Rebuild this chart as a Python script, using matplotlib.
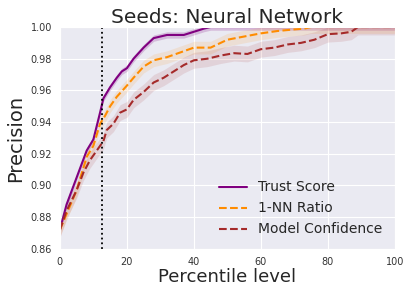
import numpy as np
import matplotlib
matplotlib.use("Agg")
import matplotlib.pyplot as plt
import seaborn as sns

sns.set_style("darkgrid")

# percentile levels and precision values
trust_x = [0, 2, 5, 8, 10, 12, 13, 15, 17, 18.5, 20, 22, 25, 28, 32, 37, 40, 43, 45, 50, 100]
trust_y = [0.872, 0.888, 0.905, 0.922, 0.929, 0.946, 0.955, 0.962, 0.968, 0.972, 0.974,
           0.980, 0.987, 0.993, 0.995, 0.995, 0.997, 0.999, 1.0, 1.0, 1.0]
trust_err = 0.002

nn_x = [0, 2, 5, 8, 10, 12, 13.5, 15, 17, 20, 22, 25, 28, 32, 36, 40, 45, 50, 55, 60,
        65, 70, 73, 75, 100]
nn_y = [0.872, 0.882, 0.897, 0.918, 0.925, 0.939, 0.944, 0.950, 0.956, 0.963, 0.968,
        0.975, 0.979, 0.981, 0.984, 0.987, 0.987, 0.992, 0.994, 0.996, 0.9975, 0.9985,
        0.999, 1.0, 1.0]
nn_err = 0.004

conf_x = [0, 2, 5, 7, 9, 11, 13, 14, 16, 18, 20, 22, 25, 28, 31, 34, 37, 40, 44, 48,
          52, 56, 60, 64, 68, 72, 76, 80, 84, 87, 89, 100]
conf_y = [0.872, 0.884, 0.897, 0.908, 0.916, 0.922, 0.928, 0.935, 0.939, 0.946, 0.948,
          0.954, 0.959, 0.965, 0.968, 0.972, 0.976, 0.979, 0.980, 0.982, 0.9835, 0.983,
          0.986, 0.987, 0.989, 0.990, 0.992, 0.9955, 0.996, 0.997, 1.0, 1.0]
conf_err = 0.005

cutoff = 12.7

fig = plt.figure(figsize=(4.1, 2.97), dpi=100)
ax = fig.add_axes([0.146, 0.162, 0.817, 0.747])

def band(x, y, e):
    y = np.array(y)
    return np.clip(y - e, None, 1.0), np.clip(y + e, None, 1.0)

lo, hi = band(trust_x, trust_y, trust_err)
ax.fill_between(trust_x, lo, hi, color="purple", alpha=0.2, lw=0)
ax.plot(trust_x, trust_y, color="purple", lw=1.5, label="Trust Score")

lo, hi = band(nn_x, nn_y, nn_err)
ax.fill_between(nn_x, lo, hi, color="darkorange", alpha=0.12, lw=0)
ax.plot(nn_x, nn_y, color="darkorange", lw=1.5, ls="--", label="1-NN Ratio")

lo, hi = band(conf_x, conf_y, conf_err)
ax.fill_between(conf_x, lo, hi, color="brown", alpha=0.12, lw=0)
ax.plot(conf_x, conf_y, color="brown", lw=1.5, ls="--", label="Model Confidence")

ax.axvline(cutoff, color="black", ls=":", lw=1.3)

ax.set_xlim(0, 100)
ax.set_ylim(0.86, 1.0)
ax.set_xticks([0, 20, 40, 60, 80, 100])
ax.set_yticks([0.86, 0.88, 0.90, 0.92, 0.94, 0.96, 0.98, 1.00])
ax.set_yticklabels(["0.86", "0.88", "0.90", "0.92", "0.94", "0.96", "0.98", "1.00"])
ax.tick_params(labelsize=7, pad=2, labelcolor="#333333")
ax.set_xlabel("Percentile level", fontsize=13, labelpad=1, color="#262626")
ax.set_ylabel("Precision", fontsize=14, color="#262626")
ax.set_title("Seeds: Neural Network", fontsize=14.5, pad=3, color="#262626")
ax.legend(loc="lower right", fontsize=10, frameon=False)

fig.savefig("out.png", dpi=100)
